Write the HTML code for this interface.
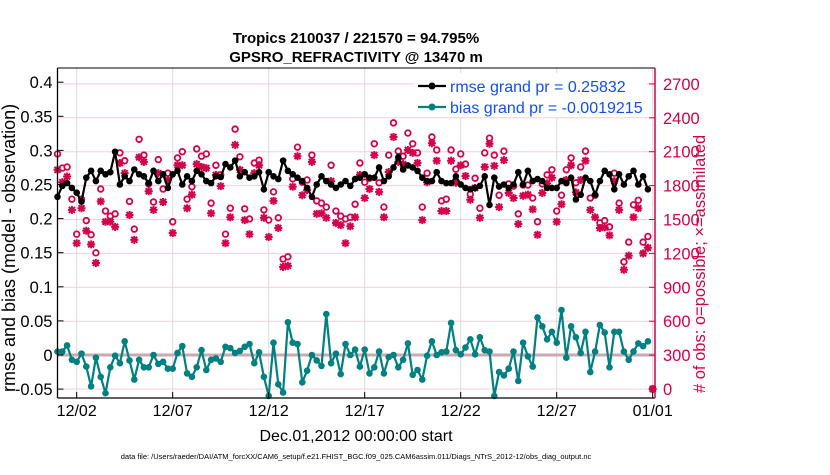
<!DOCTYPE html>
<html><head><meta charset="utf-8"><style>
body{margin:0;background:#fff;width:830px;height:470px;overflow:hidden;font-family:"Liberation Sans",Arial,sans-serif}
svg text{font-family:"Liberation Sans",Arial,sans-serif}
</style></head><body>
<svg id="chart" width="830" height="470" viewBox="0 0 830 470" xmlns="http://www.w3.org/2000/svg">
<g id="grid"></g>
<g id="zero"></g>
<g id="obs"></g>
<g id="series"></g>
<g id="axes"></g>
<g id="legend"></g>
<text x="356" y="43" text-anchor="middle" font-size="15" font-weight="bold">Tropics 210037 / 221570 = 94.795%</text>
<text x="356" y="62" text-anchor="middle" font-size="15" font-weight="bold">GPSRO_REFRACTIVITY @ 13470 m</text>
<text x="356" y="441" text-anchor="middle" font-size="16">Dec.01,2012 00:00:00 start</text>
<text transform="translate(15,392) rotate(-90)" text-anchor="start" font-size="18">rmse and bias (model - observation)</text>
<text transform="translate(705,393) rotate(-90)" text-anchor="start" font-size="16.5" fill="#d4004c"># of obs: o=possible; ×=assimilated</text>
<text x="356" y="459" text-anchor="middle" font-size="7.5">data file: /Users/raeder/DAI/ATM_forcXX/CAM6_setup/f.e21.FHIST_BGC.f09_025.CAM6assim.011/Diags_NTrS_2012-12/obs_diag_output.nc</text>
</svg>
<script>
const xTickLabels=["12/02","12/07","12/12","12/17","12/22","12/27","01/01"];
const xTickDays=[1,6,11,16,21,26,31];
const leftTicks=[-0.05,0,0.05,0.1,0.15,0.2,0.25,0.3,0.35,0.4];
const leftTickLabels=["-0.05","0","0.05","0.1","0.15","0.2","0.25","0.3","0.35","0.4"];
const rightTicks=[0,300,600,900,1200,1500,1800,2100,2400,2700];
const rmse=[.232,.248,.252,.245,.238,.225,.26,.27,.255,.27,.265,.268,.298,.25,.262,.255,.272,.265,.262,.252,.27,.255,.265,.245,.265,.27,.25,.262,.255,.27,.265,.255,.252,.262,.261,.28,.275,.285,.262,.268,.26,.262,.268,.243,.268,.262,.258,.285,.27,.265,.26,.255,.245,.232,.25,.262,.255,.25,.245,.25,.255,.248,.258,.26,.265,.26,.26,.275,.255,.262,.275,.29,.272,.278,.275,.27,.26,.255,.255,.268,.255,.252,.252,.262,.25,.245,.243,.245,.248,.262,.22,.26,.247,.25,.245,.25,.268,.25,.27,.255,.258,.255,.245,.245,.245,.255,.252,.26,.228,.235,.26,.255,.235,.255,.27,.265,.243,.265,.25,.262,.27,.25,.262,.243];
const bias=[.005,.005,.014,-.007,-.01,.002,-.017,-.046,-.004,-.032,-.056,-.018,-.001,-.012,.02,-.008,-.036,-.007,-.018,-.018,0,-.013,-.01,-.02,-.02,.003,.013,-.027,-.032,-.018,.007,-.022,-.007,-.005,-.01,.012,.01,.003,.006,.012,.016,-.012,.004,-.032,-.06,.018,-.043,-.055,.048,.018,.016,-.04,-.023,0,-.008,-.016,.06,-.012,.002,-.028,.016,0,
.008,-.017,.008,-.027,-.018,.005,-.027,-.003,0,-.018,-.007,.017,-.029,-.022,-.036,-.001,.02,0,.004,.005,.047,.007,.001,.011,.023,.001,.026,.007,.005,-.06,-.025,-.03,-.02,.005,-.038,.018,-.002,-.017,.055,.042,.023,.034,.018,.066,-.004,.042,.026,.003,.034,-.025,.005,.044,.033,-.018,.034,.034,.005,-.007,.005,.017,.013,.02];
const obsPossible=[2080,1955,1965,1680,1370,1680,1490,1365,1205,1770,1575,1530,1550,2090,2020,1660,1415,2210,2070,1815,1655,2030,1770,1910,1480,2045,2100,1680,1790,2125,2060,
2080,1645,1980,1895,1370,1600,2300,2055,1595,1505,2000,2025,1585,1495,1745,1515,1150,1170,1860,2140,1830,1850,2070,1665,1645,1610,1980,1575,1530,1505,1520,1635,
2000,1830,1865,2170,1825,1610,2070,2355,2105,2060,2265,2170,2090,1610,1910,2230,2115,1665,1680,2115,1945,2080,1990,1725,1865,1600,2090,2220,2070,1715,2105,
1815,1795,1550,1805,1805,1690,1480,1815,1895,1940,1575,1715,1940,2045,1825,1965,2105,1690,1715,1470,1490,1435,1910,1645,1125,1300,1630,1670,1300,1350,0];
const obsAssim=[1940,1830,1880,1585,1290,1600,1400,1280,1115,1660,1480,1480,1435,2000,1910,1540,1320,2050,2010,1750,1585,1910,1655,1850,1380,1980,1980,1600,1720,1990,1965,
1955,1555,1895,1795,1290,1520,2160,1940,1495,1370,1910,1980,1515,1345,1665,1425,1080,1090,1790,2060,1715,1760,2010,1550,1555,1515,1840,1470,1450,1290,1440,1520,
1895,1690,1770,2070,1745,1520,1920,2230,2010,1990,2115,2090,2000,1495,1830,2175,2020,1575,1575,2020,1825,1980,1885,1675,1780,1515,1965,2170,1975,1610,2025,
1735,1690,1460,1710,1720,1590,1365,1735,1820,1870,1480,1635,1850,1980,1740,1850,2020,1585,1520,1425,1430,1360,1840,1585,1055,1180,1520,1600,1200,1250,0];

const NS="http://www.w3.org/2000/svg";
const L=57.5,R=655,T=68,B=398;
const X=d=>L+d*19.2;
const YL=v=>355-v*682;
const YR=v=>389-v*(33.9/300);
const RED="#d4004c",TEAL="#008080";
function mk(tag,attrs,parent){const e=document.createElementNS(NS,tag);for(const k in attrs)e.setAttribute(k,attrs[k]);parent.appendChild(e);return e;}
const grid=document.getElementById('grid'),axes=document.getElementById('axes'),obs=document.getElementById('obs'),series=document.getElementById('series'),zero=document.getElementById('zero'),leg=document.getElementById('legend');
mk('rect',{x:L,y:T,width:R-L,height:B-T,fill:'#fff'},grid);
rightTicks.forEach(v=>{const l=mk('line',{x1:L,x2:R,y1:YR(v),y2:YR(v),stroke:'#f2cfdc','stroke-width':1},grid);

});
xTickDays.forEach(d=>{const l=mk('line',{x1:X(d),x2:X(d),y1:T,y2:B,stroke:'#dcdcdc','stroke-width':1},grid);

});
const z=mk('line',{x1:L,x2:R,y1:YL(0),y2:YL(0),stroke:'#c9a9b2','stroke-width':3},zero);


obsPossible.forEach((v,i)=>{const x=X(i*0.25),y=YR(v);
const c=mk('circle',{cx:x,cy:y,r:2.8,fill:'#fff',stroke:RED,'stroke-width':1.8},obs);

});
obsAssim.forEach((v,i)=>{const x=X(i*0.25),y=YR(v);
const p=mk('path',{d:`M${x-4},${y}H${x+4}M${x},${y-4}V${y+4}M${x-3},${y-3}L${x+3},${y+3}M${x-3},${y+3}L${x+3},${y-3}`,stroke:RED,'stroke-width':2},obs);

});
function line(arr,col,name){
const pts=arr.map((v,i)=>X(i*0.25)+','+YL(v)).join(' ');
const pl=mk('polyline',{points:pts,fill:'none',stroke:col,'stroke-width':2.2},series);


arr.forEach((v,i)=>{const c=mk('circle',{cx:X(i*0.25),cy:YL(v),r:3.3,fill:col},series);

});}
line(rmse,'#000','rmse');
line(bias,TEAL,'bias');
mk('line',{x1:L,x2:L,y1:T,y2:B,stroke:'#000','stroke-width':1.3},axes);
mk('line',{x1:L,x2:R,y1:B,y2:B,stroke:'#000','stroke-width':1.3},axes);
mk('line',{x1:L,x2:R,y1:T,y2:T,stroke:'#000','stroke-width':1},axes);
mk('line',{x1:R,x2:R,y1:T,y2:B,stroke:RED,'stroke-width':1.5},axes);
leftTicks.forEach((v,i)=>{mk('line',{x1:L,x2:L+6,y1:YL(v),y2:YL(v),stroke:'#000'},axes);
const t=mk('text',{x:L-5,y:YL(v)+6,'text-anchor':'end','font-size':16.5},axes);t.textContent=leftTickLabels[i];

});
rightTicks.forEach(v=>{mk('line',{x1:R-6,x2:R,y1:YR(v),y2:YR(v),stroke:RED},axes);
const t=mk('text',{x:R+8,y:YR(v)+6,'font-size':16.5,fill:RED},axes);t.textContent=v;

});
xTickDays.forEach((d,i)=>{mk('line',{x1:X(d),x2:X(d),y1:B-6,y2:B,stroke:'#000'},axes);
const t=mk('text',{x:X(d),y:B+18,'text-anchor':'middle','font-size':16},axes);t.textContent=xTickLabels[i];

});
mk('rect',{x:414,y:73,width:232,height:44,fill:'#fff'},leg);
[['rmse grand pr = 0.25832','#000',86],['bias grand pr = -0.0019215',TEAL,107]].forEach(r=>{
mk('line',{x1:418,x2:446,y1:r[2],y2:r[2],stroke:r[1],'stroke-width':2.2},leg);
mk('circle',{cx:432,cy:r[2],r:3.5,fill:r[1]},leg);
const t=mk('text',{x:450,y:r[2]+6,'font-size':16,fill:'#1050f0'},leg);t.textContent=r[0];

});
</script>
</body></html>
